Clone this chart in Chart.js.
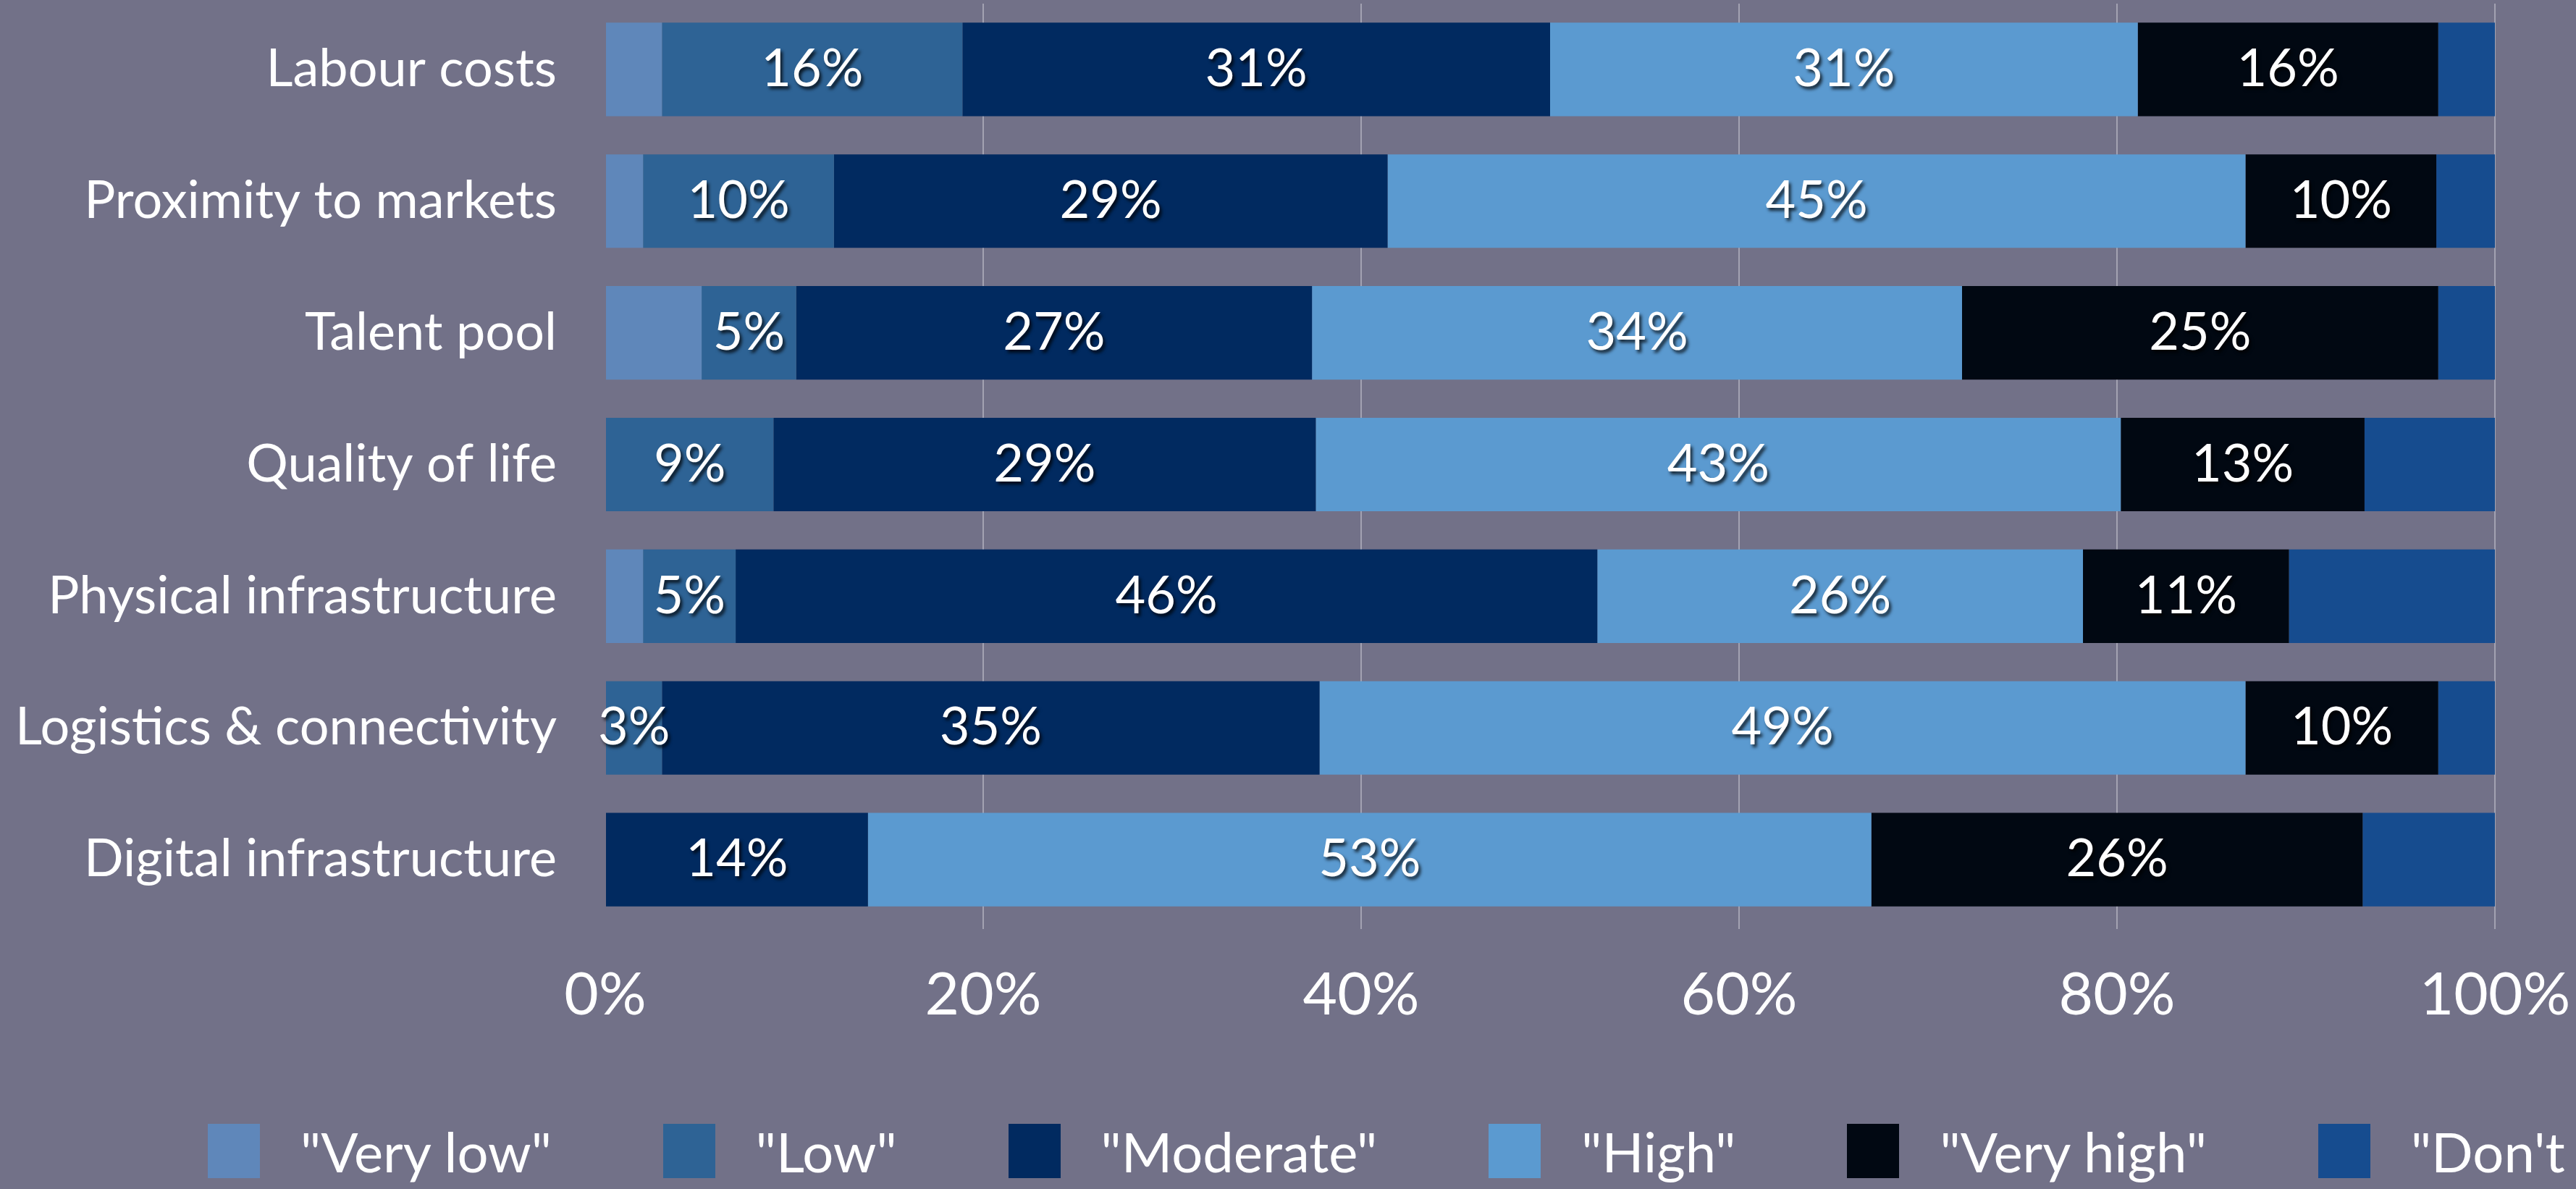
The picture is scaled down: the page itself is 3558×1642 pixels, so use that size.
<!DOCTYPE html>
<html>
<head>
<meta charset="utf-8">
<script src="https://cdn.jsdelivr.net/npm/chart.js@4.4.1/dist/chart.umd.min.js"></script>
<style>
  html, body { margin: 0; padding: 0; background: #727188; overflow: hidden; }
  #wrap { position: relative; width: 3558px; height: 1642px; }
  #legend { position: absolute; left: 287px; top: 1552px; display: flex; white-space: nowrap;
            font-family: Lato, sans-serif; font-size: 76px; line-height: 75px; color: #fff; }
  #legend .item { display: flex; align-items: center; margin-right: 154px; flex: none; }
  #legend .box { width: 72px; height: 75px; margin-right: 56px; }
</style>
</head>
<body>
<div id="wrap">
  <canvas id="myChart" width="3558" height="1642"></canvas>
  <div id="legend"></div>
</div>
<script>
const categories = ["Labour costs", "Proximity to markets", "Talent pool", "Quality of life",
  "Physical infrastructure", "Logistics & connectivity", "Digital infrastructure"];
const seriesNames = ['"Very low"', '"Low"', '"Moderate"', '"High"', '"Very high"', '"Don\'t know"'];
const veryLow  = [3.0, 2.0, 5.1, 0, 2.0, 0, 0];
const low      = [15.9, 10.1, 5.0, 8.9, 4.9, 3.0, 0];
const moderate = [31.1, 29.3, 27.3, 28.7, 45.6, 34.8, 13.9];
const high     = [31.1, 45.4, 34.4, 42.6, 25.7, 49.0, 53.1];
const veryHigh = [15.9, 10.1, 25.2, 12.9, 10.9, 10.2, 26.0];
const dontKnow = [3.0, 3.1, 3.0, 6.9, 10.9, 3.0, 7.0];
const xTicks = [0, 20, 40, 60, 80, 100];

const colors = ["#5f87ba", "#2e6395", "#012a60", "#5b9ad0", "#010812", "#164c8f"];
const series = [veryLow, low, moderate, high, veryHigh, dontKnow];
// only the middle four answers carry value labels
const labelled = [false, true, true, true, true, false];

const datasets = series.map((d, i) => ({
  label: seriesNames[i],
  data: d,
  backgroundColor: colors[i],
  borderWidth: 0,
  barPercentage: 0.71,
  categoryPercentage: 1.0,
  showLabel: labelled[i]
}));

const barLabels = {
  id: 'barLabels',
  afterDatasetsDraw(chart) {
    const ctx = chart.ctx;
    ctx.save();
    ctx.font = '72px Lato';
    ctx.fillStyle = '#ffffff';
    ctx.textAlign = 'center';
    ctx.textBaseline = 'middle';
    ctx.shadowColor = 'rgba(0,0,0,0.75)';
    ctx.shadowOffsetX = 3;
    ctx.shadowOffsetY = 4;
    ctx.shadowBlur = 4;
    chart.data.datasets.forEach((ds, i) => {
      if (!ds.showLabel) return;
      chart.getDatasetMeta(i).data.forEach((bar, j) => {
        const v = ds.data[j];
        if (!v) return;
        const p = bar.getProps(['x', 'y', 'base'], true);
        ctx.fillText(Math.round(v) + '%', (p.x + p.base) / 2, p.y);
      });
    });
    ctx.restore();
  }
};

const ctx = document.getElementById("myChart").getContext("2d");
const chart = new Chart(ctx, {
  type: 'bar',
  data: { labels: categories, datasets },
  plugins: [barLabels],
  options: {
    indexAxis: 'y',
    responsive: false,
    animation: false,
    devicePixelRatio: 1,
    layout: { padding: { left: 0, right: 112, top: 5, bottom: 0 } },
    plugins: { legend: { display: false }, tooltip: { enabled: false } },
    scales: {
      x: {
        stacked: true,
        min: 0,
        max: 100,
        afterBuildTicks: (s) => { s.ticks = xTicks.map(v => ({ value: v })); },
        afterFit: (s) => { s.height = 364; s.paddingLeft = 0; s.paddingRight = 0; },
        border: { display: false },
        grid: {
          color: (c) => c.tick && c.tick.value === 0 ? 'rgba(0,0,0,0)' : '#a3a2b2',
          lineWidth: 2,
          drawTicks: true,
          tickLength: 5
        },
        ticks: {
          color: '#ffffff',
          font: { family: 'Lato', size: 82 },
          padding: 42,
          maxRotation: 0,
          autoSkip: false,
          callback: (v) => v + '%'
        }
      },
      y: {
        stacked: true,
        afterFit: (s) => { s.width = 836; s.paddingTop = 0; s.paddingBottom = 0; },
        border: { display: false },
        grid: { display: false, drawTicks: false },
        ticks: {
          color: '#ffffff',
          font: { family: 'Lato', size: 72 },
          padding: 67,
          autoSkip: false
        }
      }
    }
  }
});

const legend = document.getElementById('legend');
seriesNames.forEach((name, i) => {
  const item = document.createElement('div');
  item.className = 'item';
  const box = document.createElement('span');
  box.className = 'box';
  box.style.background = colors[i];
  const txt = document.createElement('span');
  txt.textContent = name;
  item.appendChild(box);
  item.appendChild(txt);
  legend.appendChild(item);
});
</script>
</body>
</html>
